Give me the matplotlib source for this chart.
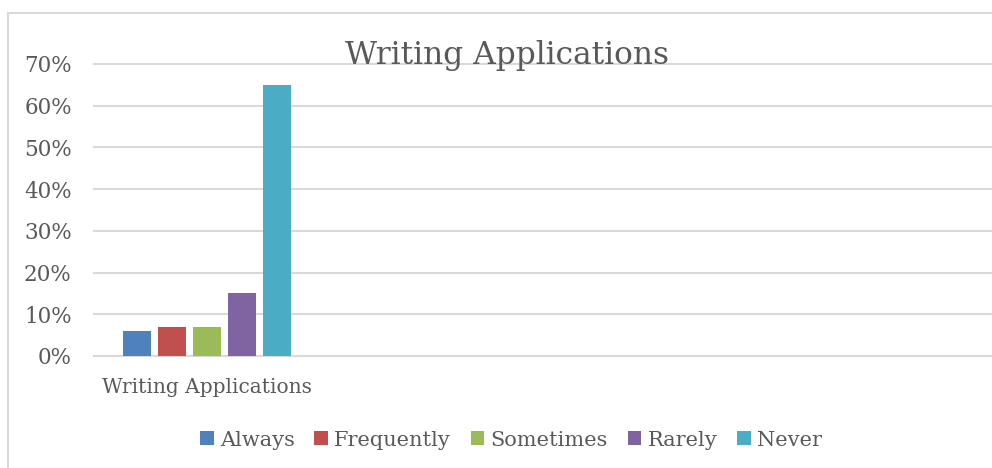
import matplotlib
matplotlib.use("Agg")
import matplotlib.pyplot as plt
from matplotlib.patches import Rectangle
import numpy as np

# Survey responses for the single category shown
categories = ["Writing Applications", "", "", ""]
series_names = ["Always", "Frequently", "Sometimes", "Rarely", "Never"]
series_values = [0.06, 0.07, 0.07, 0.15, 0.65]
series_colors = ["#4f81bd", "#c0504d", "#9bbb59", "#8064a2", "#4bacc6"]
y_ticks = [0.0, 0.1, 0.2, 0.3, 0.4, 0.5, 0.6, 0.7]
y_tick_labels = ["0%", "10%", "20%", "30%", "40%", "50%", "60%", "70%"]
title = "Writing Applications"

W, H = 992, 468
fig = plt.figure(figsize=(W / 100, H / 100), dpi=100)
fig.patch.set_facecolor("white")

font = "DejaVu Serif"
text_color = "#595959"
grid_color = "#d9d9d9"

# Chart-area frame (left and top edges visible)
fig.add_artist(Rectangle((7.5 / W, -0.1), 1.2, (H - 12.5) / H + 0.1,
                         transform=fig.transFigure, fill=False,
                         edgecolor="#d9d9d9", linewidth=1.5))

left = 94 / W
bottom = (H - 356) / H
top = (H - 64) / H
ax = fig.add_axes([left, bottom, 1.0 - left, top - bottom])

cat_px = 226.0
n_visible = (W - 94) / cat_px
ax.set_xlim(-0.5, -0.5 + n_visible)
ax.set_ylim(0, 0.7)

bar_w = 28 / cat_px
step = 35 / cat_px
offsets = (np.arange(len(series_names)) - (len(series_names) - 1) / 2) * step
for name, val, col, off in zip(series_names, series_values, series_colors, offsets):
    ax.bar([0 + off], [val], width=bar_w, color=col, label=name, zorder=3)

ax.set_yticks(y_ticks)
ax.set_yticklabels(y_tick_labels, fontfamily=font, fontsize=15.5, color=text_color)
ax.yaxis.grid(True, color=grid_color, linewidth=1.5, zorder=0)
for gl in ax.get_ygridlines():
    gl.set_clip_on(False)
ax.set_axisbelow(True)
ax.tick_params(axis="y", length=0, pad=16)
ax.set_xticks(range(len(categories)))
ax.set_xticklabels(categories, fontfamily=font, fontsize=14.5, color=text_color)
ax.tick_params(axis="x", length=0, pad=15.5)
for s in ax.spines.values():
    s.set_visible(False)
ax.set_facecolor("none")

fig.text(507 / W, (H - 64) / H, title, ha="center", va="baseline",
         fontfamily=font, fontsize=22.5, color=text_color, zorder=5)

leg = fig.legend(loc="center", bbox_to_anchor=(511 / W, (H - 440) / H),
                 ncol=5, frameon=False, handlelength=0.65, handleheight=0.65,
                 handletextpad=0.3, columnspacing=0.95,
                 prop={"family": font, "size": 15})
for t in leg.get_texts():
    t.set_color(text_color)

fig.savefig("out.png", dpi=100)
